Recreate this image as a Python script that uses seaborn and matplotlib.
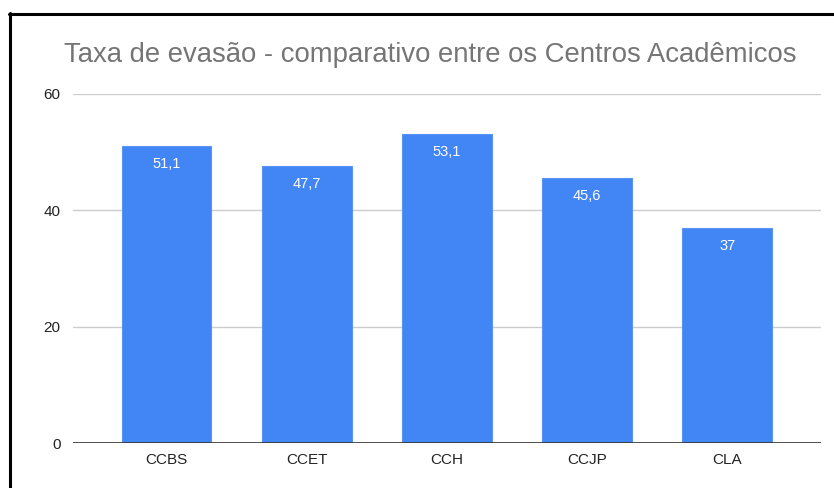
import matplotlib.pyplot as plt
import seaborn as sns
import pandas as pd
from matplotlib.lines import Line2D

# chart data
centros = ['CCBS', 'CCET', 'CCH', 'CCJP', 'CLA']
taxa_evasao = [51.1, 47.7, 53.1, 45.6, 37.0]
rotulos = ['51,1', '47,7', '53,1', '45,6', '37']
y_ticks = [0, 20, 40, 60]

df = pd.DataFrame({'centro': centros, 'taxa': taxa_evasao})

sns.set_theme(style='white')
plt.rcParams['font.family'] = ['Liberation Sans', 'DejaVu Sans']

fig = plt.figure(figsize=(8.34, 4.88), dpi=100)
ax = fig.add_axes([0.0875, 0.0922, 0.8969, 0.7152])

sns.barplot(data=df, x='centro', y='taxa', color='#4285F4', saturation=1,
            width=0.64, ax=ax, zorder=3, edgecolor='#5a95f5', linewidth=0.8)

# labels inside the bars
for i, (v, txt) in enumerate(zip(taxa_evasao, rotulos)):
    ax.annotate(txt, (i, v), xytext=(0, -8), textcoords='offset points',
                ha='center', va='top', color='white', fontsize=10.5, zorder=4)

ax.set_ylim(0, 60)
ax.set_xlim(-0.668, 4.668)
ax.set_yticks(y_ticks)
ax.set_yticklabels([str(t) for t in y_ticks])
ax.yaxis.grid(True, color='#cccccc', linewidth=1, zorder=0)
ax.axhline(0, color='#333333', linewidth=1.2, zorder=5)
ax.tick_params(axis='both', length=0, labelsize=11, colors='#222222')
ax.tick_params(axis='y', pad=9)
ax.tick_params(axis='x', pad=7)
ax.set_xlabel('')
ax.set_ylabel('')
for s in ax.spines.values():
    s.set_visible(False)

fig.text(0.516, 0.887, 'Taxa de evasão - comparativo entre os Centros Acadêmicos',
         ha='center', va='center', fontsize=19.8, color='#757575')

# black frame around the image (top and left)
fig.add_artist(Line2D([0.011, 1.0], [1 - 13.5 / 488, 1 - 13.5 / 488],
                      color='black', linewidth=2.2, transform=fig.transFigure))
fig.add_artist(Line2D([0.012, 0.012], [0.0, 1 - 12.5 / 488],
                      color='black', linewidth=2.2, transform=fig.transFigure))

fig.savefig('out.png', dpi=100, facecolor='white')
